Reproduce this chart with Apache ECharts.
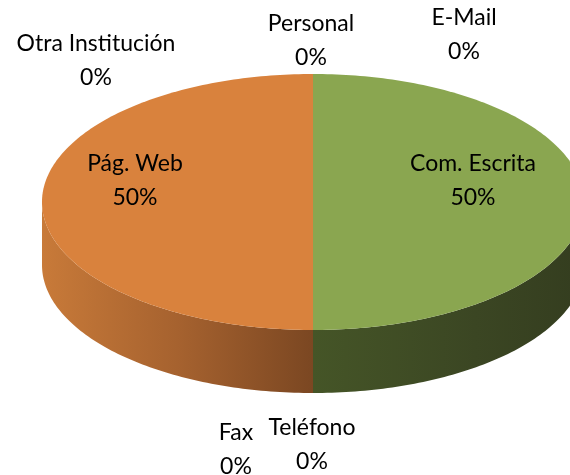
<!DOCTYPE html>
<html>
<head>
<meta charset="utf-8">
<script src="https://cdn.jsdelivr.net/npm/echarts@6/dist/echarts.min.js"></script>
<style>
  html, body { margin: 0; padding: 0; background: #fff; }
  #chart { width: 570px; height: 475px; }
</style>
</head>
<body>
<div id="chart"></div>
<script>
// ---- data (clockwise from 12 o'clock) ----
const categories = ['Com. Escrita', 'Teléfono', 'Fax', 'Pág. Web', 'Otra Institución', 'Personal', 'E-Mail'];
const values = [50, 0, 0, 50, 0, 0, 0];

// ---- layout / style (kept separate from data) ----
const topColors = {
  'Com. Escrita': '#8AA650', 'Pág. Web': '#D9823D',
  'Teléfono': '#4F81BD', 'Fax': '#C0504D', 'Otra Institución': '#8064A2', 'Personal': '#4BACC6', 'E-Mail': '#F79646'
};
const sideStops = {
  'Com. Escrita': [['#455527', 0], ['#3B4623', 0.6], ['#343D1F', 1]],
  'Pág. Web': [['#C87A39', 0], ['#A6622F', 0.5], ['#7B4722', 1]]
};
const labelPos = {
  'Com. Escrita': [473, 181], 'Pág. Web': [135, 181],
  'Personal': [311, 41], 'E-Mail': [464, 35], 'Otra Institución': [96, 61],
  'Fax': [236, 450], 'Teléfono': [312, 445]
};
const geo = { cx: 313, cy: 202, rx: 271, ry: 128, depth: 63 };

const total = values.reduce((a, b) => a + b, 0);
const startAngles = [];
{ let acc = 0; values.forEach(v => { startAngles.push(acc / total * 360); acc += v; }); }

function pt(deg, dy) {
  const t = deg * Math.PI / 180;
  return [geo.cx + geo.rx * Math.sin(t), geo.cy - geo.ry * Math.cos(t) + (dy || 0)];
}
function arc(a, b, dy) {
  const pts = [];
  const n = Math.max(2, Math.ceil(Math.abs(b - a) / 1));
  for (let i = 0; i <= n; i++) pts.push(pt(a + (b - a) * i / n, dy));
  return pts;
}

const chart = echarts.init(document.getElementById('chart'), null, { renderer: 'canvas' });

function renderItem(params, api) {
  const i = params.dataIndex;
  const name = categories[i];
  const v = values[i];
  const a = startAngles[i];
  const b = a + v / total * 360;
  const children = [];
  if (v > 0) {
    // side wall (front-facing part: 90..270 deg)
    const sa = Math.max(a, 90), sb = Math.min(b, 270);
    if (sb > sa) {
      const top = arc(sa, sb, 0);
      const bot = arc(sb, sa, geo.depth);
      const stops = sideStops[name] || [[topColors[name], 0], [topColors[name], 1]];
      children.push({
        type: 'polygon', z2: 1,
        shape: { points: top.concat(bot) },
        style: {
          fill: new echarts.graphic.LinearGradient(0, 0, 1, 0,
            stops.map(s => ({ offset: s[1], color: s[0] }))),
          stroke: null
        }
      });
    }
    // top face
    children.push({
      type: 'polygon', z2: 5,
      shape: { points: [[geo.cx, geo.cy]].concat(arc(a, b, 0)) },
      style: { fill: topColors[name], stroke: null }
    });
  }
  const lp = labelPos[name];
  const pct = Math.round(v / total * 100) + '%';
  children.push({
    type: 'text', z2: 20,
    x: lp[0], y: lp[1],
    style: {
      text: name + '\n' + pct,
      align: 'center', verticalAlign: 'middle',
      font: '23px Lato', lineHeight: 34, fill: '#000'
    }
  });
  return { type: 'group', children: children };
}

chart.setOption({
  animation: false,
  backgroundColor: '#fff',
  series: [{
    type: 'custom',
    coordinateSystem: 'none',
    renderItem: renderItem,
    data: values.map((v, i) => ({ name: categories[i], value: v }))
  }]
});
</script>
</body>
</html>
